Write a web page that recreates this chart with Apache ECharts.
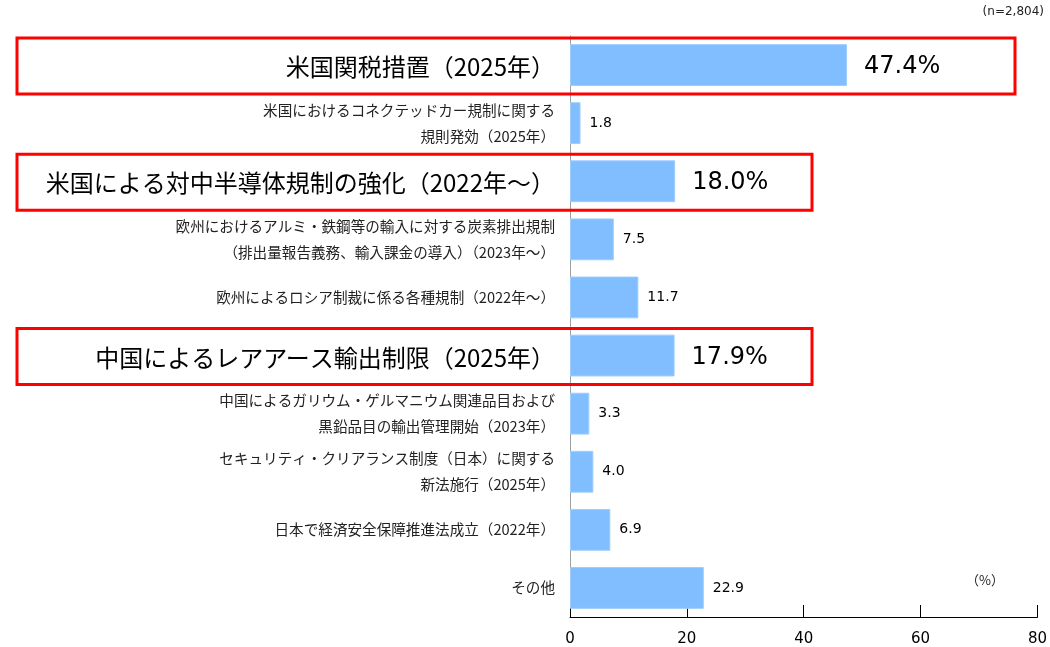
<!DOCTYPE html>
<html>
<head>
<meta charset="utf-8">
<script src="https://cdn.jsdelivr.net/npm/echarts@6/dist/echarts.min.js"></script>
<style>
html,body{margin:0;padding:0;background:#fff;}
#c1{width:1050px;height:647px;}
</style>
</head>
<body>
<div id="c1"></div>
<script>
// 項目（上から順）
const categories = [
  '米国関税措置（2025年）',
  '米国におけるコネクテッドカー規制に関する\n規則発効（2025年）',
  '米国による対中半導体規制の強化（2022年～）',
  '欧州におけるアルミ・鉄鋼等の輸入に対する炭素排出規制\n（排出量報告義務、輸入課金の導入）（2023年～）',
  '欧州によるロシア制裁に係る各種規制（2022年～）',
  '中国によるレアアース輸出制限（2025年）',
  '中国によるガリウム・ゲルマニウム関連品目および\n黒鉛品目の輸出管理開始（2023年）',
  'セキュリティ・クリアランス制度（日本）に関する\n新法施行（2025年）',
  '日本で経済安全保障推進法成立（2022年）',
  'その他'
]
const values = [47.4, 1.8, 18.0, 7.5, 11.7, 17.9, 3.3, 4.0, 6.9, 22.9]
// 赤枠で強調する項目
const highlighted = [0, 2, 5]
const xTicks = [0, 20, 40, 60, 80]

let chart = echarts.init(document.getElementById('c1'))

let option = {
  backgroundColor: '#fff',
  animation: false,
  grid: {left: 570, right: 12, top: 36, bottom: 30},
  xAxis: {
    type: 'value',
    min: xTicks[0],
    max: xTicks[xTicks.length - 1],
    interval: 20,
    splitLine: {show: false},
    axisLine: {show: true, lineStyle: {color: '#000', width: 1}},
    axisTick: {show: true, inside: true, length: 12, lineStyle: {color: '#000'}},
    axisLabel: {color: '#000', fontSize: 15, fontFamily: 'DejaVu Sans', margin: 15}
  },
  yAxis: {
    type: 'category',
    inverse: true,
    data: categories,
    axisLine: {show: true, lineStyle: {color: '#a0a0a0', width: 1}},
    axisTick: {show: false},
    axisLabel: {
      margin: 15,
      formatter: function (v, idx) {
        if (highlighted.indexOf(idx) > -1) {
          return '{b|' + v + '}'
        }
        return v.split('\n').map(function (s) { return '{s|' + s + '}' }).join('\n')
      },
      rich: {
        b: {fontSize: 24, color: '#000', fontFamily: 'Noto Sans CJK JP', align: 'right', padding: [4, 0, 0, 0]},
        s: {fontSize: 14.6, color: '#222', fontFamily: 'Noto Sans CJK JP', lineHeight: 26, align: 'right'}
      }
    }
  },
  series: [{
    type: 'bar',
    data: values.map(function (v, i) {
      let big = highlighted.indexOf(i) > -1
      return {
        value: v,
        label: big
          ? {fontSize: 24, distance: 17, offset: [0, 2], formatter: function (p) { return p.value.toFixed(1) + '%' }}
          : {fontSize: 14, distance: 9}
      }
    }),
    barCategoryGap: '28%',
    itemStyle: {color: '#80BEFF', borderColor: '#9dcdff', borderWidth: 1},
    label: {
      show: true,
      position: 'right',
      color: '#000',
      fontFamily: 'DejaVu Sans',
      formatter: function (p) { return p.value.toFixed(1) }
    }
  }]
}
chart.setOption(option)

// 赤枠
let boxRight = [1015, 812, 812]
let gfx = highlighted.map(function (idx, k) {
  let y = chart.convertToPixel({yAxisIndex: 0}, idx)
  return {
    type: 'rect',
    shape: {x: 17, y: y - 27, width: boxRight[k] - 17, height: 56},
    style: {fill: 'none', stroke: '#ff0000', lineWidth: 3},
    z: 10
  }
})
gfx.push({
  type: 'text', right: 6, top: 6,
  style: {text: '(n=2,804)', fontSize: 12, fill: '#222', fontFamily: 'DejaVu Sans'}
})
gfx.push({
  type: 'text', left: 966, top: 574,
  style: {text: '（%）', fontSize: 13, fill: '#222', fontFamily: 'Noto Sans CJK JP'}
})
chart.setOption({graphic: gfx})
</script>
</body>
</html>
